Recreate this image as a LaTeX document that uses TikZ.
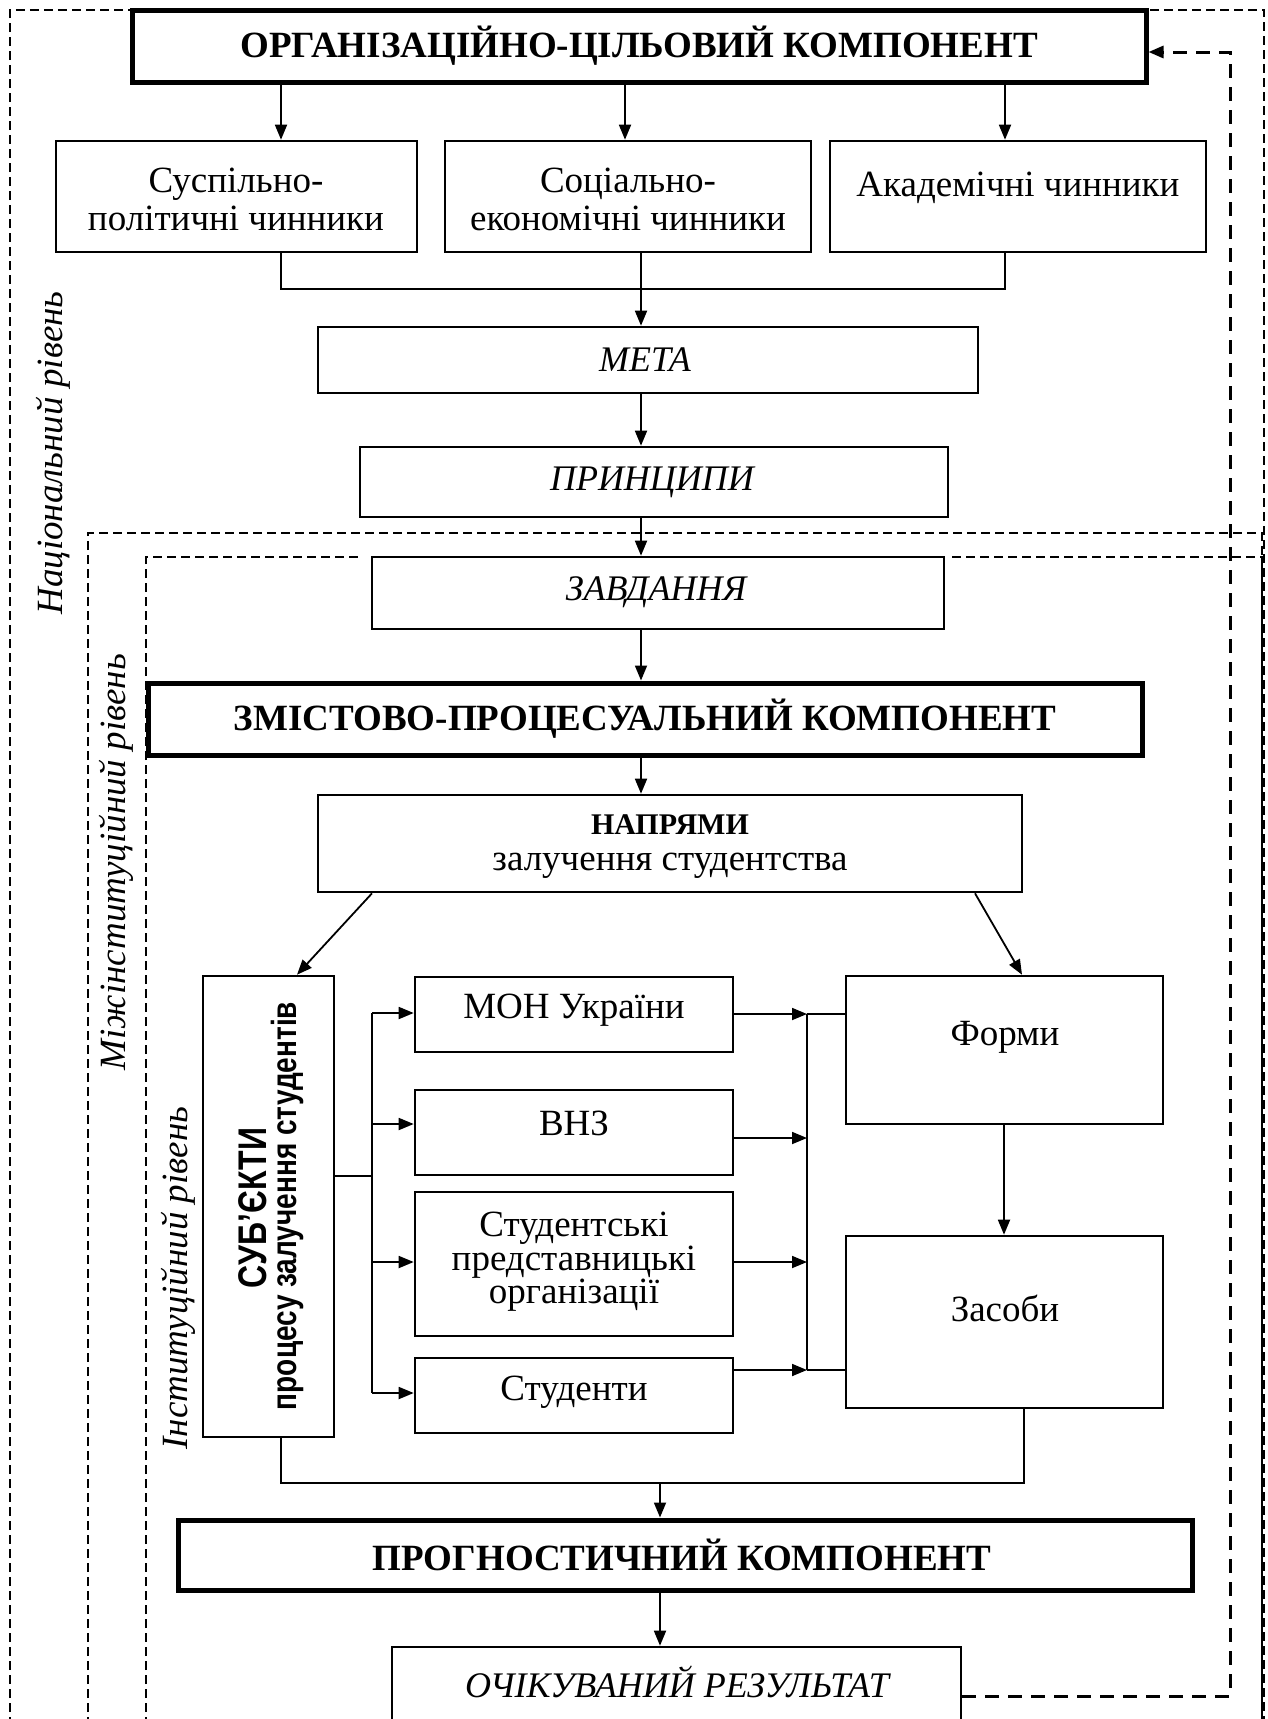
\documentclass[tikz,border=0pt]{standalone}
\usepackage{fontspec}
\setmainfont{Liberation Serif}
\newfontfamily\narrowsans[FakeStretch=0.8]{Liberation Sans}
\usetikzlibrary{arrows.meta,fit}
\begin{document}
\begin{tikzpicture}[x=1pt,y=-1pt,
  bx/.style={draw, line width=2.6pt, inner sep=0pt, fill=white},
  tbx/.style={draw, line width=5pt, inner sep=0pt, fill=white},
  txt/.style={inner sep=0pt, align=center, font=\fontsize{37}{38}\selectfont},
  itx/.style={inner sep=0pt, align=center, font=\itshape\fontsize{36}{38}\selectfont},
  hd/.style={inner sep=0pt, align=center, font=\bfseries\fontsize{37}{38}\selectfont},
  arr/.style={line width=1.8pt, -{Triangle[length=15pt,width=12pt]}},
  ln/.style={line width=1.6pt},
  zone/.style={line width=2.2pt, dash pattern=on 9pt off 5pt},
  fbk/.style={line width=3pt, dash pattern=on 14pt off 9pt},
  lvl/.style={rotate=90, inner sep=0pt, font=\itshape\fontsize{37}{38}\selectfont}
]
\useasboundingbox (0,0) rectangle (1267,1719);
\clip (0,0) rectangle (1267,1719);
\fill[white] (0,0) rectangle (1267,1719);

% level zones
\draw[zone] (10,1740) -- (10,10) -- (1264,10) -- (1264,1740);
\draw[zone] (88,1740) -- (88,533) -- (1262,533) -- (1262,1740);
\draw[zone] (146,1740) -- (146,557) -- (360,557);
\draw[zone] (952,557) -- (1262,557) -- (1262,1740);

% level labels
\node[lvl] (lnat) at (53,453) {Національний рівень};
\node[lvl] (lmiz) at (116,862) {Міжінституційний рівень};
\node[lvl] (linst) at (178,1278) {Інституційний рівень};

% helper coordinates
\coordinate (xa) at (281,0);
\coordinate (xb) at (625,0);
\coordinate (xc) at (1005,0);
\coordinate (xm) at (641,0);
\coordinate (xd1) at (372,0);
\coordinate (xd2) at (297,0);
\coordinate (xd3) at (975,0);
\coordinate (xd4) at (1022,0);
\coordinate (xfz) at (1004,0);
\coordinate (xs) at (1024,0);
\coordinate (xp) at (660,0);
\coordinate (xfb) at (1230,0);
\coordinate (yfb) at (0,52);
\coordinate (ym1) at (0,289);
\coordinate (ym2) at (0,1483);
\coordinate (ysb) at (0,1176);

% boxes
\node[tbx, fit={(132,10)(1146,82)}] (org) {};
\node[hd] (orgT) at (639,46) {ОРГАНІЗАЦІЙНО-ЦІЛЬОВИЙ КОМПОНЕНТ};

\node[bx, fit={(56,141)(417,252)}] (f1) {};
\node[txt] (f1T) at (236,199) {Суспільно-\\політичні чинники};
\node[bx, fit={(445,141)(811,252)}] (f2) {};
\node[txt] (f2T) at (628,199) {Соціально-\\економічні чинники};
\node[bx, fit={(830,141)(1206,252)}] (f3) {};
\node[txt] (f3T) at (1018,188) {Академічні чинники};

\node[bx, fit={(318,327)(978,393)}] (meta) {};
\node[itx] (metaT) at (645,360) {МЕТА};
\node[bx, fit={(360,447)(948,517)}] (princ) {};
\node[itx] (princT) at (652,482) {ПРИНЦИПИ};
\node[bx, fit={(372,557)(944,629)}] (zavd) {};
\node[itx] (zavdT) at (656,592) {ЗАВДАННЯ};

\node[tbx, fit={(148,683)(1142,755)}] (zmist) {};
\node[hd] (zmistT) at (645,719) {ЗМІСТОВО-ПРОЦЕСУАЛЬНИЙ КОМПОНЕНТ};

\node[bx, fit={(318,795)(1022,892)}] (napr) {};
\node[inner sep=0pt, anchor=base, font=\bfseries\fontsize{30}{32}\selectfont] (naprT1) at (670,834) {НАПРЯМИ};
\node[inner sep=0pt, anchor=base, font=\fontsize{37}{38}\selectfont] (naprT2) at (670,870) {залучення студентства};

\node[bx, fit={(203,976)(334,1437)}] (subj) {};
\node[rotate=90, inner sep=0pt, font=\narrowsans\bfseries\fontsize{40}{40}\selectfont] (subjT1) at (253,1208) {СУБ’ЄКТИ};
\node[rotate=90, inner sep=0pt, font=\narrowsans\bfseries\fontsize{35}{36}\selectfont] (subjT2) at (287,1206) {процесу залучення студентів};

\node[bx, fit={(415,977)(733,1052)}] (moh) {};
\node[txt] (mohT) at (574,1010) {МОН України};
\node[bx, fit={(415,1090)(733,1175)}] (vnz) {};
\node[txt] (vnzT) at (574,1123) {ВНЗ};
\node[bx, fit={(415,1192)(733,1336)}] (sro) {};
\node[inner sep=0pt, align=center, font=\fontsize{37}{32}\selectfont] (sroT) at (574,1262) {Студентські\\представницькі\\організації};
\node[bx, fit={(415,1358)(733,1433)}] (stud) {};
\node[txt] (studT) at (574,1392) {Студенти};

\node[bx, fit={(846,976)(1163,1124)}] (forms) {};
\node[txt] (formsT) at (1005,1037) {Форми};
\node[bx, fit={(846,1236)(1163,1408)}] (means) {};
\node[txt] (meansT) at (1005,1308) {Засоби};

\node[tbx, fit={(178,1520)(1192,1590)}] (prog) {};
\node[hd] (progT) at (682,1555) {ПРОГНОСТИЧНИЙ КОМПОНЕНТ};

\node[bx, fit={(392,1647)(961,1745)}] (res) {};
\node[itx] (resT) at (677,1682) {ОЧІКУВАНИЙ РЕЗУЛЬТАТ};

% connectors top
\draw[arr] (org.south -| xa) -- (f1.north -| xa);
\draw[arr] (org.south -| xb) -- (f2.north -| xb);
\draw[arr] (org.south -| xc) -- (f3.north -| xc);
\draw[ln] (f1.south -| xa) -- (xa |- ym1) -- (xc |- ym1) -- (f3.south -| xc);
\draw[arr] (f2.south -| xm) -- (meta.north -| xm);
\draw[arr] (meta.south -| xm) -- (princ.north -| xm);
\draw[arr] (princ.south -| xm) -- (zavd.north -| xm);
\draw[arr] (zavd.south -| xm) -- (zmist.north -| xm);
\draw[arr] (zmist.south -| xm) -- (napr.north -| xm);

% directions
\draw[arr] (napr.south -| xd1) -- (subj.north -| xd2);
\draw[arr] (napr.south -| xd3) -- (forms.north -| xd4);

% subjects bus
\coordinate (b1) at (372,1013);
\coordinate (b2) at (372,1124);
\coordinate (b3) at (372,1262);
\coordinate (b4) at (372,1393);
\draw[ln] (subj.east |- ysb) -- (b1 |- ysb);
\draw[ln] (b1) -- (b4);
\draw[arr] (b1) -- (moh.west |- b1);
\draw[arr] (b2) -- (vnz.west |- b2);
\draw[arr] (b3) -- (sro.west |- b3);
\draw[arr] (b4) -- (stud.west |- b4);

% right bus
\coordinate (c1) at (807,1014);
\coordinate (c2) at (807,1138);
\coordinate (c3) at (807,1262);
\coordinate (c4) at (807,1370);
\draw[arr] (moh.east |- c1) -- (c1);
\draw[arr] (vnz.east |- c2) -- (c2);
\draw[arr] (sro.east |- c3) -- (c3);
\draw[arr] (stud.east |- c4) -- (c4);
\draw[ln] (c1) -- (c4);
\draw[ln] (c1) -- (forms.west |- c1);
\draw[ln] (c4) -- (means.west |- c4);
\draw[arr] (forms.south -| xfz) -- (means.north -| xfz);

% bottom
\draw[ln] (subj.south -| xa) -- (xa |- ym2) -- (xs |- ym2) -- (means.south -| xs);
\draw[arr] (xp |- ym2) -- (prog.north -| xp);
\draw[arr] (prog.south -| xp) -- (res.north -| xp);

% feedback
\draw[fbk, -{Triangle[length=15pt,width=12pt]}] (res.east) -- (xfb |- res.east) -- (xfb |- yfb) -- (org.east |- yfb);
\end{tikzpicture}
\end{document}
